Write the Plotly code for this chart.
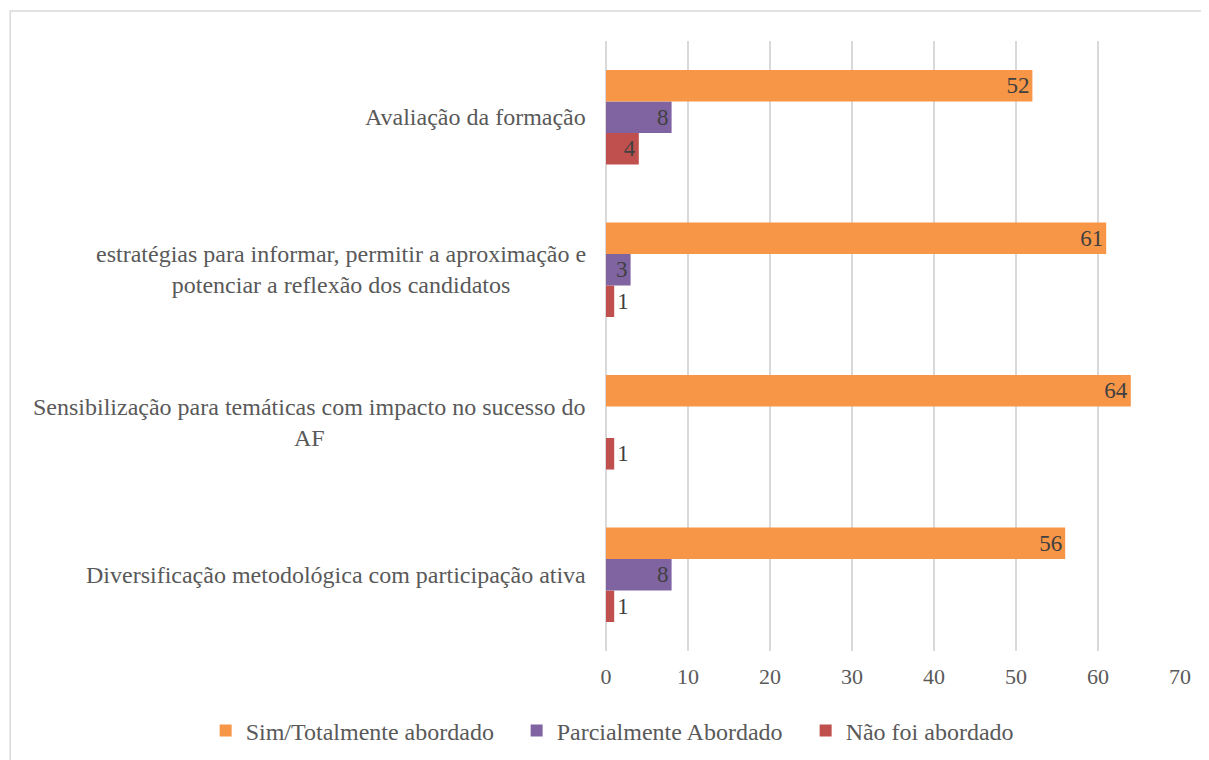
import plotly.graph_objects as go

categories = [
    "Diversificação metodológica com participação ativa",
    "Sensibilização para temáticas com impacto no sucesso do<br>AF",
    "estratégias para informar, permitir a aproximação e<br>potenciar a reflexão dos candidatos",
    "Avaliação da formação",
]
series_names = ["Sim/Totalmente abordado", "Parcialmente Abordado", "Não foi abordado"]
sim_values = [56, 64, 61, 52]
parcial_values = [8, 0, 3, 8]
nao_values = [1, 1, 1, 4]
x_ticks = [0, 10, 20, 30, 40, 50, 60, 70]

colors = {"Sim/Totalmente abordado": "#F79646",
          "Parcialmente Abordado": "#8064A2",
          "Não foi abordado": "#C0504D"}
legend_widths = {"Sim/Totalmente abordado": 266,
                 "Parcialmente Abordado": 244,
                 "Não foi abordado": 175}

FONT = "Liberation Serif, Times New Roman, serif"
TXT = "#595959"
VAL = "#404040"

fig = go.Figure()
for name, vals in [("Não foi abordado", nao_values),
                   ("Parcialmente Abordado", parcial_values),
                   ("Sim/Totalmente abordado", sim_values)]:
    texts = [str(v) if v > 0 else "" for v in vals]
    positions = ["outside" if v < 2 else "inside" for v in vals]
    fig.add_trace(go.Bar(
        y=categories, x=vals, name=name, orientation="h",
        marker=dict(color=colors[name], line=dict(width=0)),
        text=texts, textposition=positions,
        insidetextanchor="end",
        textfont=dict(family=FONT, size=23, color=VAL),
        insidetextfont=dict(family=FONT, size=23, color=VAL),
        outsidetextfont=dict(family=FONT, size=23, color=VAL),
        cliponaxis=False,
        legendwidth=legend_widths[name],
    ))

for c in categories:
    fig.add_annotation(x=-0.031, xref="paper", y=c, yref="y",
                       text=c, showarrow=False, xanchor="right",
                       align="center", font=dict(family=FONT, size=24, color=TXT))

fig.add_shape(type="rect", xref="paper", yref="paper",
              x0=-1.038, x1=1.2, y0=-0.3, y1=1.049,
              line=dict(color="#D9D9D9", width=1.5), fillcolor="rgba(0,0,0,0)",
              layer="below")

fig.update_layout(
    width=1201, height=752,
    margin=dict(l=598, r=29, t=33, b=109, autoexpand=False),
    barmode="group", bargap=0.38, bargroupgap=0,
    plot_bgcolor="white", paper_bgcolor="white",
    font=dict(family=FONT, size=22, color=TXT),
    uniformtext=dict(minsize=23, mode="show"),
    legend=dict(orientation="h", traceorder="reversed",
                xref="paper", yref="paper",
                x=-0.6975, xanchor="left", y=-0.131, yanchor="middle",
                font=dict(family=FONT, size=24, color=TXT)),
    xaxis=dict(range=[0, 70], tickvals=x_ticks, showgrid=True,
               gridcolor="#D9D9D9", gridwidth=1.5, zeroline=True,
               zerolinecolor="#D9D9D9", zerolinewidth=1.5,
               showline=False, ticks="", ticklabelstandoff=10,
               tickfont=dict(family=FONT, size=22, color=TXT)),
    yaxis=dict(showticklabels=False, showgrid=False, zeroline=False,
               showline=False, ticks=""),
)

fig.write_html("out.html")
